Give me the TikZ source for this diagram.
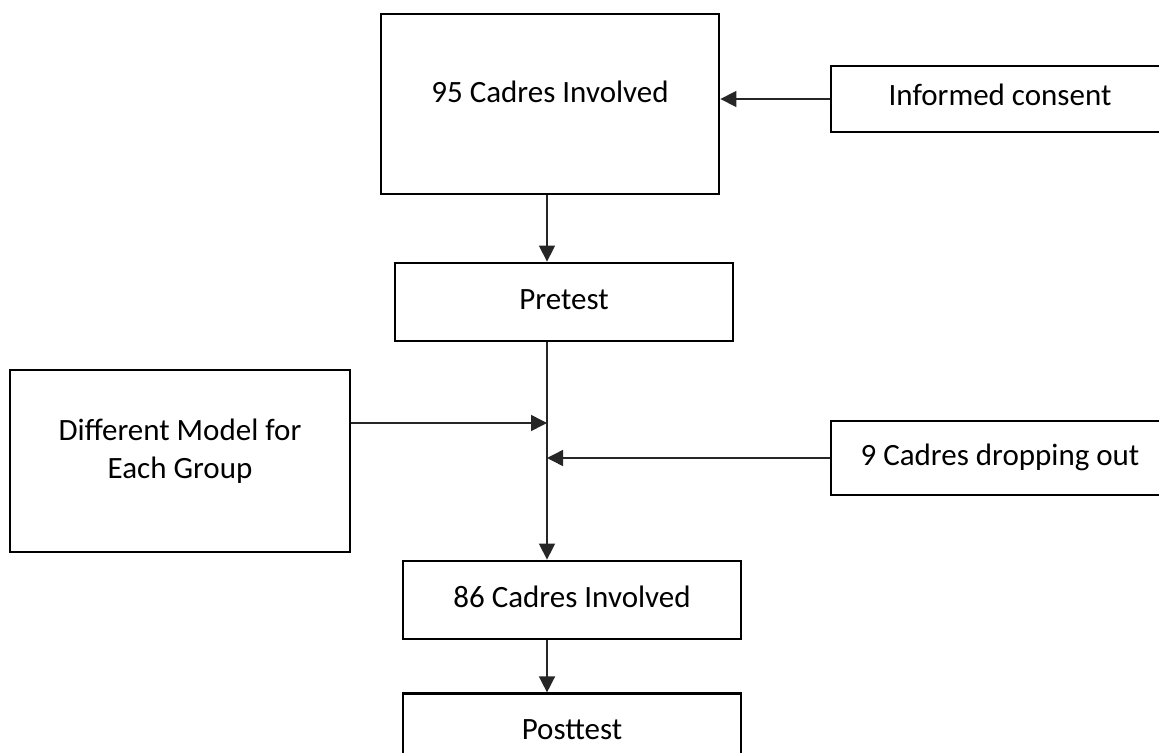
\documentclass[tikz,border=0pt]{standalone}
\usepackage{fontspec}
\setmainfont{Carlito}
\usepackage{tikz}
\usetikzlibrary{arrows.meta, positioning, calc}
\tikzset{
  flowbox/.style={draw=black, line width=1.4pt, fill=white,
    minimum width=169pt, minimum height=39pt, inner sep=0pt,
    text height=11pt, text depth=4pt, align=center,
    font=\fontsize{15.5pt}{19pt}\selectfont},
  sidebox/.style={flowbox, minimum height=33pt},
  flowarrow/.style={-{Triangle[length=8pt, width=8pt]}, line width=0.75pt, color=black!85}
}

\begin{document}
\begin{tikzpicture}[x=0.5pt, y=-0.5pt]

  \useasboundingbox (0,0) rectangle (1159,753);
  \clip (0,0) rectangle (1159,753);

  %% Main column
  \node[flowbox, minimum height=90pt, text depth=12pt] (cadres95) at (550,104) {95 Cadres Involved};
  \node[flowbox] (pretest) at (564,302) {Pretest};
  \node[flowbox] (cadres86) at (572,600) {86 Cadres Involved};
  \node[flowbox, below=26pt of cadres86] (posttest) {Posttest};

  %% Side boxes
  \node[sidebox] (consent) at (1000,99) {Informed consent};
  \node[flowbox, minimum width=170pt, minimum height=91pt,
        text height=30pt, text depth=13pt] (model) at (180,461)
    {Different Model for\\Each Group};
  \node[sidebox, minimum height=37pt] (dropout) at (1000,458) {9 Cadres dropping out};

  %% Spine of the flow
  \coordinate (spine) at (547,0);

  %% Arrows
  \draw[flowarrow] (consent.west) -- (consent.west -| cadres95.east);
  \draw[flowarrow] (cadres95.south -| spine) -- (pretest.north -| spine);
  \draw[flowarrow] (pretest.south -| spine) -- (cadres86.north -| spine);
  \draw[flowarrow] ([yshift=19pt]model.east) -- ([yshift=19pt]model.east -| spine);
  \draw[flowarrow] (dropout.west) -- (dropout.west -| spine);
  \draw[flowarrow] (cadres86.south -| spine) -- (posttest.north -| spine);

\end{tikzpicture}
\end{document}
